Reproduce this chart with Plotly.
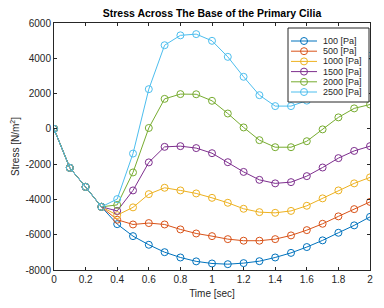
import plotly.graph_objects as go

# ---- data ----
time_sec = [0.0, 0.1, 0.2, 0.3, 0.4, 0.5, 0.6, 0.7, 0.8, 0.9, 1.0,
            1.1, 1.2, 1.3, 1.4, 1.5, 1.6, 1.7, 1.8, 1.9, 2.0]
s100 = [0, -2210, -3290, -4420, -5400, -6080, -6570, -6990, -7290, -7510, -7630,
        -7670, -7610, -7500, -7290, -7030, -6700, -6320, -5890, -5470, -4990]
s500 = [0, -2210, -3290, -4420, -5150, -5420, -5340, -5420, -5700, -5930, -6080,
        -6250, -6340, -6340, -6250, -6040, -5740, -5380, -4960, -4550, -4140]
s1000 = [0, -2210, -3290, -4420, -4890, -4450, -3700, -3340, -3490, -3660, -3910,
         -4190, -4530, -4720, -4760, -4650, -4360, -3940, -3490, -3090, -2750]
s1500 = [0, -2210, -3290, -4420, -4650, -3490, -1900, -1020, -980, -1090, -1380,
         -1890, -2440, -2890, -3090, -3020, -2680, -2190, -1660, -1250, -980]
s2000 = [0, -2210, -3290, -4420, -4310, -2470, 50, 1700, 1970, 1960, 1590,
         870, 80, -640, -1040, -1040, -700, -30, 650, 1160, 1380]
s2500 = [0, -2210, -3290, -4420, -3980, -1400, 2250, 4740, 5300, 5370, 4990,
         4080, 2950, 1910, 1290, 1290, 1600, 2200, 2900, 3550, 4140]

series_names = ["100 [Pa]", "500 [Pa]", "1000 [Pa]", "1500 [Pa]", "2000 [Pa]", "2500 [Pa]"]
series_values = [s100, s500, s1000, s1500, s2000, s2500]
series_colors = ["#0072BD", "#D95319", "#EDB120", "#7E2F8E", "#77AC30", "#4DBEEE"]

x_tickvals = [0, 0.2, 0.4, 0.6, 0.8, 1.0, 1.2, 1.4, 1.6, 1.8, 2.0]
x_ticktext = ["0", "0.2", "0.4", "0.6", "0.8", "1", "1.2", "1.4", "1.6", "1.8", "2"]
y_tickvals = [-8000, -6000, -4000, -2000, 0, 2000, 4000, 6000]
y_ticktext = ["-8000", "-6000", "-4000", "-2000", "0", "2000", "4000", "6000"]

# ---- layout geometry (page has an 8px body margin, so the figure is shifted) ----
OFF = 8
W, H = 384 - OFF, 308 - OFF
# target plot area in window pixels: x 54..370, y 23..270
PL, PR, PT, PB = 54, 370, 23, 270
ML, MR, MT, MB = PL - OFF, W - (PR - OFF), PT - OFF, H - (PB - OFF)
PW, PH = PR - PL, PB - PT
FONT = "Liberation Sans, Arial, sans-serif"
TXT = "#262626"

def px_x(px):
    return (px - PL) / PW

def px_y(py):
    return (PB - py) / PH

fig = go.Figure()
for name, vals, col in zip(series_names, series_values, series_colors):
    fig.add_trace(go.Scatter(
        x=time_sec, y=vals, name=name, mode="lines+markers",
        line=dict(color=col, width=1),
        marker=dict(symbol="circle-open", size=7, color=col, line=dict(width=1, color=col)),
        showlegend=False,
    ))

# ---- custom MATLAB-like legend ----
shapes = []
annotations = []
bx0, bx1, by0, by1 = 288, 369, 28, 102
shapes.append(dict(type="rect", xref="paper", yref="paper",
                   x0=px_x(bx0), x1=px_x(bx1), y0=px_y(by1), y1=px_y(by0),
                   fillcolor="white", line=dict(color="#262626", width=1), layer="above"))
for i, (name, col) in enumerate(zip(series_names, series_colors)):
    ry = 41 + 10.2 * i
    shapes.append(dict(type="line", xref="paper", yref="paper",
                       x0=px_x(291), x1=px_x(317), y0=px_y(ry), y1=px_y(ry),
                       line=dict(color=col, width=1), layer="above"))
    shapes.append(dict(type="circle", xref="paper", yref="paper",
                       xsizemode="pixel", ysizemode="pixel",
                       xanchor=px_x(304), yanchor=px_y(ry),
                       x0=-3.5, x1=3.5, y0=-3.5, y1=3.5,
                       line=dict(color=col, width=1), fillcolor="rgba(0,0,0,0)", layer="above"))
    annotations.append(dict(xref="paper", yref="paper", x=px_x(321), y=px_y(ry),
                            text=name, showarrow=False, xanchor="left", yanchor="middle",
                            font=dict(family=FONT, size=9, color=TXT)))

fig.update_layout(
    width=W, height=H,
    margin=dict(l=ML, r=MR, t=MT, b=MB, autoexpand=False),
    paper_bgcolor="white", plot_bgcolor="white",
    font=dict(family=FONT, size=10, color=TXT),
    title=dict(text="<b>Stress Across The Base of the Primary Cilia</b>",
               x=((PL + PR) / 2 - OFF) / W, xanchor="center",
               y=1 - (13 - OFF) / H, yanchor="middle",
               font=dict(family=FONT, size=10.5, color="#000000")),
    shapes=shapes, annotations=annotations,
    xaxis=dict(range=[0, 2], tickvals=x_tickvals, ticktext=x_ticktext,
               showgrid=False, zeroline=False, showline=True, linecolor="#262626", linewidth=1,
               mirror="ticks", ticks="inside", ticklen=3, tickcolor="#262626",
               tickfont=dict(family=FONT, size=10, color=TXT),
               title=dict(text="Time [sec]", standoff=5, font=dict(family=FONT, size=10, color=TXT))),
    yaxis=dict(range=[-8000, 6000], tickvals=y_tickvals, ticktext=y_ticktext,
               showgrid=False, zeroline=False, showline=True, linecolor="#262626", linewidth=1,
               mirror="ticks", ticks="inside", ticklen=3, tickcolor="#262626",
               tickfont=dict(family=FONT, size=10, color=TXT),
               title=dict(text="Stress [N/m<sup>2</sup>]", standoff=3,
                          font=dict(family=FONT, size=10, color=TXT))),
)

fig.write_html("out.html")
